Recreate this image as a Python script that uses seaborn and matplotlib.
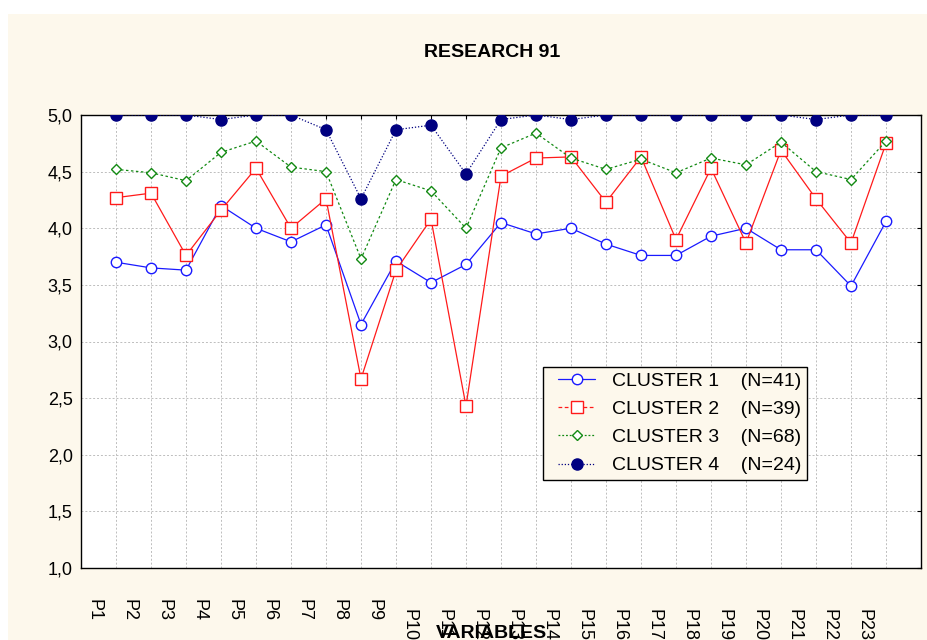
import numpy as np
import pandas as pd
import matplotlib
matplotlib.use("Agg")
import matplotlib.pyplot as plt
import matplotlib.transforms as mtransforms
from matplotlib.lines import Line2D
from matplotlib.patches import Rectangle
from matplotlib.legend_handler import HandlerLine2D
import seaborn as sns

# Data
variables = ["P1", "P2", "P3", "P4", "P5", "P6", "P7", "P8", "P9", "P10", "P11", "P12",
             "P13", "P14", "P15", "P16", "P17", "P18", "P19", "P20", "P21", "P22", "P23"]
cluster1 = [3.70, 3.65, 3.63, 4.20, 4.00, 3.88, 4.03, 3.15, 3.71, 3.52, 3.68, 4.05,
            3.95, 4.00, 3.86, 3.76, 3.76, 3.93, 4.00, 3.81, 3.81, 3.49, 4.06]
cluster2 = [4.27, 4.31, 3.76, 4.16, 4.53, 4.00, 4.26, 2.67, 3.63, 4.08, 2.43, 4.46,
            4.62, 4.63, 4.23, 4.63, 3.90, 4.53, 3.87, 4.69, 4.26, 3.87, 4.75]
cluster3 = [4.52, 4.49, 4.42, 4.67, 4.77, 4.54, 4.50, 3.73, 4.43, 4.33, 4.00, 4.71,
            4.84, 4.62, 4.52, 4.61, 4.49, 4.62, 4.56, 4.76, 4.50, 4.43, 4.77]
cluster4 = [5.00, 5.00, 5.00, 4.96, 5.00, 5.00, 4.87, 4.26, 4.87, 4.91, 4.48, 4.96,
            5.00, 4.96, 5.00, 5.00, 5.00, 5.00, 5.00, 5.00, 4.96, 5.00, 5.00]
legend_labels = ["CLUSTER 1    (N=41)", "CLUSTER 2    (N=39)",
                 "CLUSTER 3    (N=68)", "CLUSTER 4    (N=24)"]
yticks = [1.0, 1.5, 2.0, 2.5, 3.0, 3.5, 4.0, 4.5, 5.0]

df = pd.DataFrame({"pos": np.arange(1, len(variables) + 1), "var": variables,
                   "c1": cluster1, "c2": cluster2, "c3": cluster3, "c4": cluster4})

cream = "#fdf8ec"
sns.set_style("white")
plt.rcParams["font.family"] = ["Liberation Sans", "DejaVu Sans"]
plt.rcParams["text.color"] = "black"
plt.rcParams["xtick.color"] = "black"
plt.rcParams["ytick.color"] = "black"

fig = plt.figure(figsize=(9.28, 6.4), dpi=100)
fig.patch.set_facecolor("white")
fig.patches.append(Rectangle((8 / 928, 0), 1, 1 - 14 / 640, transform=fig.transFigure,
                             facecolor=cream, edgecolor="none", zorder=-10))
ax = fig.add_axes([81 / 928, 1 - 568 / 640, 840 / 928, 453 / 640])
ax.set_facecolor("white")

styles = [
    dict(y="c1", color="#1a1aff", linestyle="-", marker="o", ms=7.5, mfc="white"),
    dict(y="c2", color="#ff1a1a", linestyle="-", marker="s", ms=8, mfc="white"),
    dict(y="c3", color="#138a13", linestyle=(0, (2, 2)), marker="D", ms=5.5, mfc="white"),
    dict(y="c4", color="#000080", linestyle=(0, (1, 1.5)), marker="o", ms=8, mfc="#000080"),
]
for st in styles:
    sns.lineplot(data=df, x="pos", y=st["y"], ax=ax, color=st["color"],
                 linestyle=st["linestyle"], lw=0.9, marker=st["marker"], ms=st["ms"],
                 mfc=st["mfc"], mec=st["color"], mew=1.0, legend=False, sort=False,
                 errorbar=None, zorder=3)

ax.set_xlim(0, 24)
ax.set_ylim(1, 5)
ax.set_xticks(df["pos"])
ax.set_xticklabels(variables, rotation=270, fontsize=13)
ax.set_yticks(yticks)
ax.set_yticklabels([f"{v:.1f}".replace(".", ",") for v in yticks], fontsize=13)
ax.set_xlabel("")
ax.set_ylabel("")
ax.tick_params(direction="in", top=True, right=True, length=3, width=0.8,
               color="black", labelcolor="black")
ax.tick_params(axis="x", pad=22)
ax.tick_params(axis="y", pad=6)
ax.grid(True, color="#bdbdbd", linestyle=(0, (2, 2)), linewidth=0.7)
ax.set_axisbelow(True)
for sp in ax.spines.values():
    sp.set_color("black")
    sp.set_linewidth(1.0)

for lbl in ax.get_xticklabels():
    dy = -0.10 if len(lbl.get_text()) > 2 else 0
    lbl.set_transform(lbl.get_transform() +
                      mtransforms.ScaledTranslation(-0.22, dy, fig.dpi_scale_trans))

fig.text(492 / 928, 1 - 57 / 640, "RESEARCH 91", ha="center", va="baseline",
         fontsize=14, fontweight="bold", color="black")
fig.text(491 / 928, 1 - 633 / 640, "VARIABLES", ha="center", va="center",
         fontsize=14, fontweight="bold", color="black")

handles = [
    Line2D([], [], color="#1a1aff", lw=0.9, ls="-", marker="o", ms=7.5, mfc="white", mec="#1a1aff"),
    Line2D([], [], color="#ff1a1a", lw=0.9, ls=(0, (3, 2)), marker="s", ms=8, mfc="white", mec="#ff1a1a"),
    Line2D([], [], color="#138a13", lw=0.9, ls=(0, (1.5, 1.5)), marker="D", ms=5.5, mfc="white", mec="#138a13"),
    Line2D([], [], color="#000080", lw=0.9, ls=(0, (1, 1.5)), marker="o", ms=8, mfc="#000080", mec="#000080"),
]
leg = ax.legend(handles, legend_labels, loc="upper left",
                bbox_to_anchor=((543 - 81) / 840, 1 - (367 - 115) / 453),
                borderaxespad=0, frameon=True, fancybox=False, edgecolor="black",
                facecolor=cream, framealpha=1, fontsize=14, handlelength=2.4,
                handletextpad=0.88, labelspacing=0.54, borderpad=0.28,
                handler_map={Line2D: HandlerLine2D(xpad=0.5)})
leg.get_frame().set_linewidth(1.0)
for t in leg.get_texts():
    t.set_color("black")

fig.savefig("out.png", dpi=100)
